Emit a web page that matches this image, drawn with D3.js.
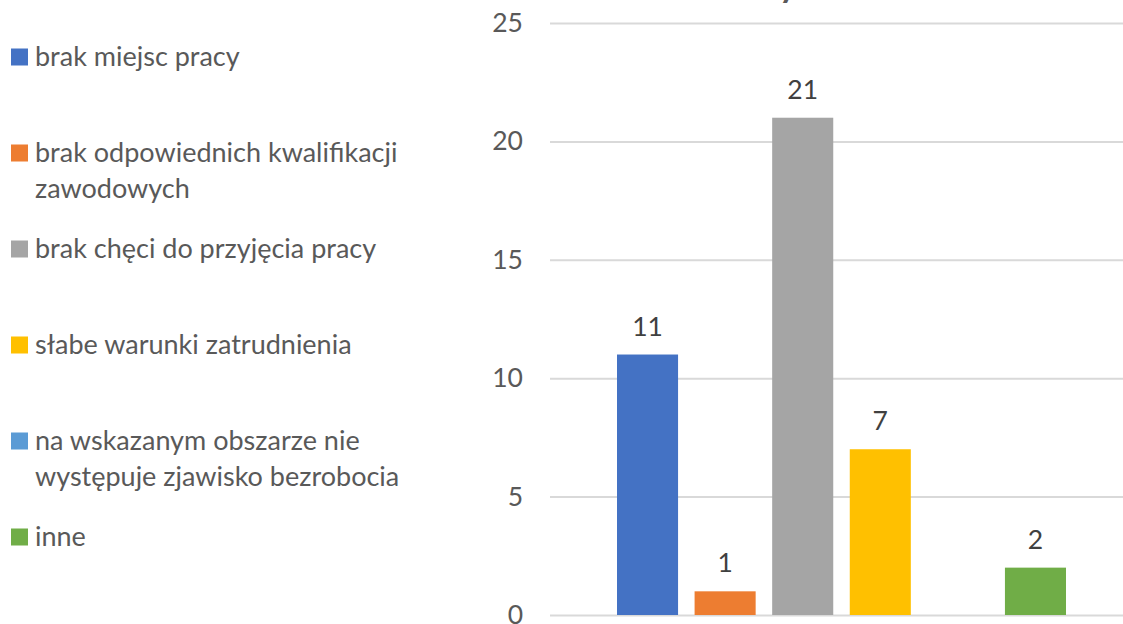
<!DOCTYPE html>
<html>
<head>
<meta charset="utf-8">
<script src="https://cdn.jsdelivr.net/npm/d3@7"></script>
<style>
  html, body { margin: 0; padding: 0; background: #fff; }
  svg { display: block; }
</style>
</head>
<body>
<svg id="chart" width="1123" height="624"></svg>
<script>
const categories = [
  "brak miejsc pracy",
  "brak odpowiednich kwalifikacji\nzawodowych",
  "brak chęci do przyjęcia pracy",
  "słabe warunki zatrudnienia",
  "na wskazanym obszarze nie\nwystępuje zjawisko bezrobocia",
  "inne"
];
const values = [11, 1, 21, 7, 0, 2];
const colors = ["#4472C4", "#ED7D31", "#A5A5A5", "#FFC000", "#5B9BD5", "#70AD47"];
const yTicks = [0, 5, 10, 15, 20, 25];
const titleFragment = "y";

const FONT = "Lato, 'Open Sans', sans-serif";
const svg = d3.select("#chart");

const plot = { left: 550, right: 1145, top: 23, bottom: 615 };
const rows = values.map((v, i) => ({ i, v }));

const y = d3.scaleLinear().domain([0, 25]).range([plot.bottom, plot.top]);
const x = d3.scaleBand()
  .domain(d3.range(categories.length))
  .range([617, 1066])
  .paddingInner(0.213)
  .paddingOuter(0);

// title fragment (cut off at the top)
svg.append("text")
  .attr("x", 788).attr("y", -3)
  .attr("text-anchor", "middle")
  .attr("font-family", FONT).attr("font-weight", "bold")
  .attr("font-size", 34).attr("fill", "#595959")
  .text(titleFragment);

// gridlines and y axis labels
const yAxis = d3.axisLeft(y).tickValues(yTicks).tickSize(-(plot.right - plot.left)).tickPadding(27);
const gy = svg.append("g").attr("transform", `translate(${plot.left},0)`).call(yAxis);
gy.select(".domain").remove();
gy.selectAll(".tick line").attr("stroke", "#D9D9D9").attr("stroke-width", 2);
gy.selectAll(".tick text")
  .attr("font-family", FONT).attr("font-size", 26.5).attr("fill", "#595959");

// bars
svg.append("g").selectAll("rect").data(rows).join("rect")
  .attr("x", d => x(d.i))
  .attr("width", x.bandwidth())
  .attr("y", d => y(d.v))
  .attr("height", d => y(0) - y(d.v))
  .attr("fill", d => colors[d.i]);

// data labels
svg.append("g").selectAll("text").data(rows.filter(d => d.v > 0)).join("text")
  .attr("x", d => x(d.i) + x.bandwidth() / 2)
  .attr("y", d => y(d.v) - 19)
  .attr("text-anchor", "middle")
  .attr("font-family", FONT).attr("font-size", 26.5).attr("fill", "#404040")
  .text(d => d.v);

// legend
const leg = svg.append("g");
categories.forEach((c, i) => {
  const cy = 57 + 96 * i;
  leg.append("rect").attr("x", 11).attr("y", cy - 8.5).attr("width", 17).attr("height", 17).attr("fill", colors[i]);
  const t = leg.append("text")
    .attr("font-family", FONT).attr("font-size", 27).attr("fill", "#595959");
  c.split("\n").forEach((line, j) => {
    t.append("tspan").attr("x", 35).attr("y", cy + 9 + j * 35.5).text(line);
  });
});
</script>
</body>
</html>
